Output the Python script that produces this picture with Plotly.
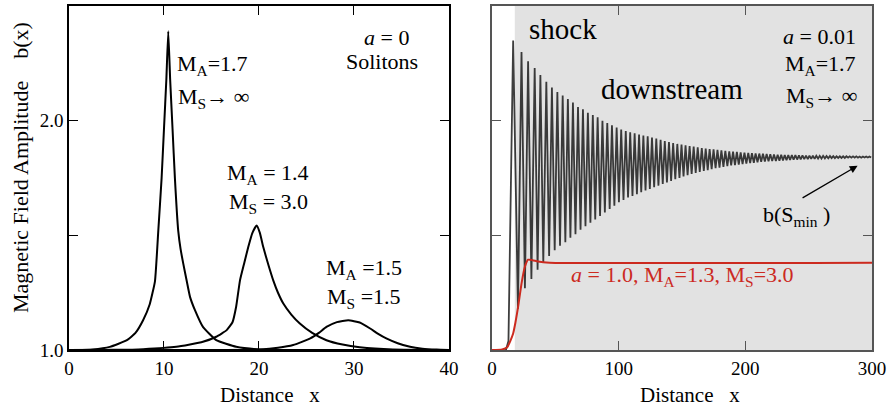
import plotly.graph_objects as go

# ---------------- Left panel: solitons (a = 0) ----------------
sol1_x = [0, 2.5, 4.3, 6.1, 7.0, 7.8, 8.5, 9.05, 9.4, 9.75, 10.0, 10.25, 10.45, 10.65, 10.9, 11.15, 11.5, 11.75, 12.03, 12.4, 12.74, 13.26, 14.1, 15.5, 17.6, 20.0, 25.0, 40.0]
sol1_y = [1.0, 1.003, 1.014, 1.043, 1.075, 1.13, 1.2, 1.30, 1.52, 1.75, 1.965, 2.18, 2.39, 2.18, 1.965, 1.75, 1.52, 1.44, 1.377, 1.30, 1.232, 1.174, 1.101, 1.043, 1.014, 1.003, 1.0, 1.0]

sol2_x = [0, 5.0, 7.8, 11.3, 14.1, 15.5, 16.6, 17.2, 17.6, 18.0, 18.45, 18.87, 19.3, 19.75, 20.1, 20.45, 21.0, 21.5, 22.0, 22.56, 23.4, 24.3, 25.6, 27.1, 28.8, 30.6, 34.1, 40.0]
sol2_y = [1.0, 1.001, 1.004, 1.014, 1.036, 1.058, 1.087, 1.12, 1.19, 1.304, 1.38, 1.449, 1.51, 1.543, 1.51, 1.449, 1.37, 1.304, 1.25, 1.203, 1.155, 1.116, 1.075, 1.043, 1.024, 1.012, 1.002, 1.0]

sol3_x = [0, 10.0, 15.0, 20.1, 22.0, 23.6, 25.4, 26.3, 27.1, 28.2, 29.4, 30.6, 31.7, 32.5, 33.4, 34.6, 35.9, 37.2, 38.7, 40.0]
sol3_y = [1.0, 1.0, 1.0, 1.003, 1.01, 1.022, 1.051, 1.075, 1.101, 1.122, 1.13, 1.12, 1.094, 1.072, 1.051, 1.03, 1.014, 1.006, 1.002, 1.0]

# ---------------- Right panel: shock (a = 0.01) ----------------
pre_x = [0, 11.0, 13.0]
pre_y = [1.0, 1.0, 1.04]

peak_x = [16.7, 23.3, 28.5, 33.7, 38.2, 42.9, 47.3, 51.6, 55.8, 59.9,
          63.9, 67.9, 71.8, 75.7, 79.6, 83.4, 87.2, 91.0, 94.7, 98.4,
          102.0, 105.6, 109.1, 112.6, 116.1, 119.5, 122.9, 126.3, 129.7, 133.1,
          136.4, 139.7, 143.0, 146.3, 149.6, 152.8, 156.0, 159.2, 162.4, 165.6,
          168.7, 171.8, 174.9, 178.0, 181.1, 184.2, 187.3, 190.3, 193.3, 196.3,
          199.3, 202.3, 205.2, 208.1, 211.0, 213.9, 216.8, 219.7, 222.6, 225.5,
          228.3, 231.1, 233.9, 236.7, 239.5, 242.3, 245.1, 247.9, 250.6, 253.3,
          256.0, 258.7, 261.4, 264.1, 266.8, 269.4, 272.0, 274.6, 277.2, 279.8,
          282.4, 285.0, 287.6, 290.2, 292.8, 295.4, 298.0]
peak_y = [2.35, 2.30, 2.26, 2.23, 2.20, 2.17, 2.145, 2.125, 2.11, 2.095,
          2.08, 2.06, 2.05, 2.035, 2.025, 2.015, 2.0, 1.99, 1.98, 1.97,
          1.962, 1.955, 1.95, 1.945, 1.94, 1.936, 1.932, 1.927, 1.922, 1.917,
          1.912, 1.907, 1.903, 1.899, 1.896, 1.893, 1.89, 1.887, 1.884, 1.881,
          1.879, 1.877, 1.875, 1.873, 1.871, 1.869, 1.867, 1.865, 1.864, 1.862,
          1.861, 1.86, 1.859, 1.858, 1.857, 1.856, 1.855, 1.854, 1.853, 1.852,
          1.852, 1.851, 1.851, 1.85, 1.85, 1.849, 1.849, 1.848, 1.848, 1.848,
          1.847, 1.847, 1.847, 1.846, 1.846, 1.846, 1.845, 1.845, 1.845, 1.845,
          1.845, 1.845, 1.845, 1.844, 1.844, 1.844, 1.844]
trough_x = [20.5, 26.0, 31.1, 36.0, 40.5, 45.1, 49.5, 53.7, 57.9, 61.9,
            65.9, 69.9, 73.8, 77.7, 81.5, 85.3, 89.1, 92.9, 96.6, 100.2,
            103.8, 107.4, 110.9, 114.4, 117.8, 121.2, 124.6, 128.0, 131.4, 134.8,
            138.1, 141.4, 144.7, 148.0, 151.2, 154.4, 157.6, 160.8, 164.0, 167.2,
            170.3, 173.4, 176.5, 179.6, 182.7, 185.8, 188.8, 191.8, 194.8, 197.8,
            200.8, 203.8, 206.7, 209.6, 212.5, 215.4, 218.3, 221.2, 224.1, 226.9,
            229.7, 232.5, 235.3, 238.1, 240.9, 243.7, 246.5, 249.3, 252.0, 254.7,
            257.4, 260.1, 262.8, 265.5, 268.1, 270.7, 273.3, 275.9, 278.5, 281.1,
            283.7, 286.3, 288.9, 291.5, 294.1, 296.7, 299.3]
trough_y = [1.18, 1.27, 1.31, 1.35, 1.38, 1.41, 1.435, 1.455, 1.47, 1.49,
            1.505, 1.525, 1.54, 1.555, 1.57, 1.585, 1.60, 1.615, 1.63, 1.645,
            1.655, 1.665, 1.672, 1.68, 1.688, 1.696, 1.703, 1.71, 1.717, 1.724,
            1.731, 1.738, 1.745, 1.751, 1.757, 1.763, 1.768, 1.773, 1.777, 1.781,
            1.785, 1.789, 1.793, 1.796, 1.799, 1.802, 1.805, 1.807, 1.809, 1.811,
            1.813, 1.815, 1.817, 1.819, 1.821, 1.822, 1.823, 1.824, 1.825, 1.826,
            1.827, 1.828, 1.829, 1.83, 1.831, 1.832, 1.833, 1.833, 1.834, 1.834,
            1.835, 1.835, 1.836, 1.836, 1.837, 1.837, 1.838, 1.838, 1.838, 1.839,
            1.839, 1.839, 1.839, 1.839, 1.84, 1.84, 1.84]

red_x = [0, 8.0, 12.0, 14.5, 16.7, 18.5, 20.6, 23.3, 25.9, 28.5, 32.0, 36.3, 45.5, 300.0]
red_y = [1.0, 1.003, 1.012, 1.04, 1.072, 1.12, 1.188, 1.29, 1.362, 1.394, 1.392, 1.386, 1.381, 1.381]

left_xticks = [0, 10, 20, 30, 40]
left_yticks = [1.0, 1.5, 2.0]
left_ylabels = ["1.0", "", "2.0"]
right_xticks = [0, 100, 200, 300]
right_yticks = [1.5, 2.0]

shock_x = list(pre_x)
shock_y = list(pre_y)
for px, py, tx, ty in zip(peak_x, peak_y, trough_x, trough_y):
    shock_x += [px, tx]
    shock_y += [py, ty]

FONT = "Liberation Serif, Times New Roman, Times, serif"
fig = go.Figure()
for xs, ys in [(sol1_x, sol1_y), (sol2_x, sol2_y), (sol3_x, sol3_y)]:
    fig.add_trace(go.Scatter(x=xs, y=ys, mode="lines", xaxis="x", yaxis="y",
                             line=dict(color="black", width=2, shape="spline", smoothing=0.4),
                             showlegend=False, hoverinfo="skip"))
fig.add_trace(go.Scatter(x=shock_x, y=shock_y, mode="lines", xaxis="x2", yaxis="y2",
                         line=dict(color="rgba(20,20,20,0.82)", width=1.8),
                         showlegend=False, hoverinfo="skip"))
fig.add_trace(go.Scatter(x=red_x, y=red_y, mode="lines", xaxis="x2", yaxis="y2",
                         line=dict(color="#cc2a1f", width=2, shape="spline", smoothing=0.5),
                         showlegend=False, hoverinfo="skip"))

fig.add_shape(type="rect", xref="x2", yref="y2", x0=18, x1=300, y0=1.0, y1=2.5,
              fillcolor="#e2e2e2", line=dict(width=0), layer="below")

axis_common = dict(showgrid=False, zeroline=False, showline=True, mirror="ticks",
                   ticks="inside", ticklen=9, tickwidth=1.2, automargin=False,
                   tickfont=dict(family=FONT, size=19, color="black"))
fig.update_layout(
    width=890, height=408, margin=dict(l=0, r=0, t=0, b=0, autoexpand=False),
    paper_bgcolor="white", plot_bgcolor="white", showlegend=False,
    font=dict(family=FONT, color="black"),
    xaxis=dict(domain=[0.0775, 0.5045], range=[0, 40], tickvals=left_xticks,
               linecolor="black", linewidth=1.5, tickcolor="black", anchor="y", **axis_common),
    yaxis=dict(domain=[0.142, 0.985], range=[1.0, 2.5], tickvals=left_yticks, ticktext=left_ylabels,
               linecolor="black", linewidth=1.5, tickcolor="black", anchor="x", **axis_common),
    xaxis2=dict(domain=[0.5528, 0.9798], range=[0, 300], tickvals=right_xticks,
                linecolor="#555555", linewidth=1.5, tickcolor="#555555", anchor="y2", **axis_common),
    yaxis2=dict(domain=[0.142, 0.985], range=[1.0, 2.5], tickvals=right_yticks, showticklabels=False,
                linecolor="#555555", linewidth=1.5, tickcolor="#555555", anchor="x2", **axis_common),
)

def txt(text, x, y, xref, yref, size=22, color="black", xanchor="center", yanchor="middle"):
    fig.add_annotation(text=text, x=x, y=y, xref=xref, yref=yref, showarrow=False,
                       xanchor=xanchor, yanchor=yanchor,
                       font=dict(family=FONT, size=size, color=color))

# left panel labels
txt("<i>a</i> = 0", 33.4, 2.361, "x", "y")
txt("Solitons", 33.0, 2.26, "x", "y")
txt("M<sub>A</sub>=1.7", 11.2, 2.245, "x", "y", xanchor="left")
txt("M<sub>S</sub>→ ∞", 11.3, 2.098, "x", "y", xanchor="left")
txt("M<sub>A</sub> = 1.4", 21.0, 1.766, "x", "y")
txt("M<sub>S</sub> = 3.0", 21.0, 1.643, "x", "y")
txt("M<sub>A</sub> =1.5", 31.1, 1.355, "x", "y")
txt("M<sub>S</sub> =1.5", 31.1, 1.225, "x", "y")

# right panel labels
txt("shock", 56, 2.40, "x2", "y2", size=29)
txt("downstream", 142.2, 2.14, "x2", "y2", size=29)
txt("<i>a</i> = 0.01", 258.6, 2.368, "x2", "y2")
txt("M<sub>A</sub>=1.7", 229.5, 2.245, "x2", "y2", xanchor="left")
txt("M<sub>S</sub>→ ∞", 230.5, 2.105, "x2", "y2", xanchor="left")
txt("b(S<sub>min</sub> )", 240.2, 1.585, "x2", "y2")
txt("<i>a</i> = 1.0, M<sub>A</sub>=1.3, M<sub>S</sub>=3.0", 150, 1.322, "x2", "y2", color="#cc2a1f")

fig.add_annotation(x=288.6, y=1.804, ax=244, ay=1.66, xref="x2", yref="y2", axref="x2", ayref="y2",
                   showarrow=True, arrowhead=2, arrowsize=1.2, arrowwidth=1.3, arrowcolor="black", text="")

# axis titles
fig.add_annotation(text="Distance   x", x=270 / 890, y=1 - 395 / 408, xref="paper", yref="paper",
                   xanchor="center", yanchor="middle", showarrow=False,
                   font=dict(family=FONT, size=21, color="black"))
fig.add_annotation(text="Distance   x", x=690 / 890, y=1 - 395 / 408, xref="paper", yref="paper",
                   xanchor="center", yanchor="middle", showarrow=False,
                   font=dict(family=FONT, size=21, color="black"))
fig.add_annotation(text="Magnetic Field Amplitude    b(x)", x=20 / 890, y=1 - 168 / 408,
                   xref="paper", yref="paper", textangle=-90, xanchor="center", yanchor="middle",
                   showarrow=False, font=dict(family=FONT, size=22, color="black"))

fig.write_html("out.html", config={"displayModeBar": False},
               post_script="document.body.style.margin='0';document.body.style.padding='0';")
